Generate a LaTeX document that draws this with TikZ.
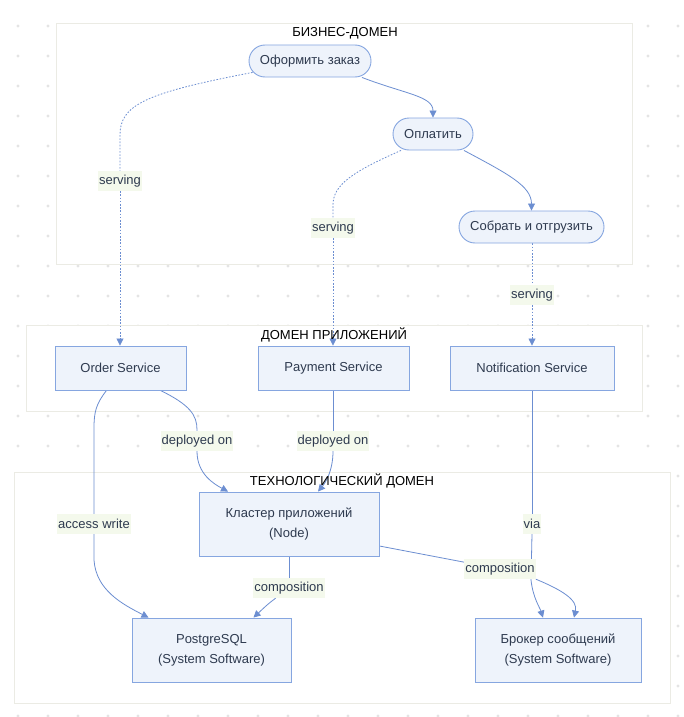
\documentclass[tikz,border=0pt]{standalone}
\usepackage{fontspec}
\setmainfont{Liberation Sans}
\usetikzlibrary{arrows.meta,calc}
\definecolor{edgec}{HTML}{6C8ED1}
\definecolor{nodeb}{HTML}{86A6E0}
\definecolor{nodef}{HTML}{EEF3FB}
\definecolor{txtc}{HTML}{2E3A4F}
\definecolor{lblf}{HTML}{F4F9EC}
\definecolor{domb}{HTML}{EBEBE4}
\definecolor{dotc}{HTML}{E4E4E4}
\pgfdeclarelayer{bglayer}
\pgfdeclarelayer{edgelayer}
\pgfsetlayers{bglayer,edgelayer,main}
\tikzset{
  every node/.style={font=\fontsize{13}{20}\selectfont, text=txtc},
  pill/.style={draw=nodeb, fill=nodef, line width=0.9pt, rounded corners=16pt, inner sep=0pt, minimum height=32pt},
  svc/.style={draw=nodeb, fill=nodef, line width=0.9pt, inner sep=0pt, minimum height=44pt},
  tecbox/.style={draw=nodeb, fill=nodef, line width=0.9pt, inner sep=0pt, minimum height=64pt, align=center},
  lbl/.style={fill=lblf, inner xsep=1pt, inner ysep=0pt, minimum height=20pt},
  domainbox/.style={draw=domb, fill=white, line width=1pt},
  dtitle/.style={text=black},
  conn/.style={draw=edgec, line width=0.8pt},
  arr/.style={conn, -{Triangle[length=7pt,width=7pt]}},
  dotconn/.style={conn, dash pattern=on 1.6pt off 1.6pt},
}
\begin{document}
\begin{tikzpicture}[x=1pt,y=-1pt]
\useasboundingbox (0,0) rectangle (684,717);
\begin{pgfonlayer}{bglayer}
  \fill[white] (0,0) rectangle (684,717);
  \foreach \i in {0,...,22} {
    \foreach \j in {0,...,23} {
      \fill[dotc] ({18+30*\i},{26+30*\j}) circle (1.6pt);
    }
  }
  \path[domainbox] (56,24) rectangle (632,264);
  \path[domainbox] (26,325) rectangle (642,411);
  \path[domainbox] (14,472) rectangle (670,703);
\end{pgfonlayer}

% domain titles
\node[dtitle] (tbiz) at (345,33) {БИЗНЕС-ДОМЕН};
\node[dtitle] (tapp) at (334,335) {ДОМЕН ПРИЛОЖЕНИЙ};
\node[dtitle] (ttech) at (342,481) {ТЕХНОЛОГИЧЕСКИЙ ДОМЕН};

% business nodes
\node[pill, minimum width=122pt] (oz) at (310,61) {Оформить заказ};
\node[pill, minimum width=80pt] (opl) at (433,134) {Оплатить};
\node[pill, minimum width=145pt] (sob) at (531.5,227) {Собрать и отгрузить};

% application nodes
\node[svc, minimum width=131pt] (ord) at (120.5,368) {Order Service};
\node[svc, minimum width=151pt] (pay) at (333.5,368) {Payment Service};
\node[svc, minimum width=164pt] (notif) at (532,368) {Notification Service};

% technology nodes
\node[tecbox, minimum width=180pt] (clu) at (289,524) {Кластер приложений\\(Node)};
\node[tecbox, minimum width=159pt] (pg) at (211.5,650) {PostgreSQL\\(System Software)};
\node[tecbox, minimum width=166pt] (brk) at (558,650) {Брокер сообщений\\(System Software)};

% labels
\node[lbl] (s1) at (120,181) {serving};
\node[lbl] (s2) at (333,228) {serving};
\node[lbl] (s3) at (532,295) {serving};
\node[lbl] (d1) at (197,441) {deployed on};
\node[lbl] (d2) at (333,441) {deployed on};
\node[lbl] (aw) at (94,524) {access write};
\node[lbl] (via) at (532,524) {via};
\node[lbl] (c1) at (289,588) {composition};
\node[lbl] (c2) at (500,569) {composition};

\coordinate (viaj) at (531,580);

\begin{pgfonlayer}{edgelayer}
  % business flow
  \draw[arr] ([xshift=52pt]oz.south) .. controls (405,94) and (433,96) .. (opl.north);
  \draw[arr] ([xshift=31pt]opl.south) .. controls (508,174) and (531.5,186) .. (sob.north);
  % serving
  \draw[dotconn] ($(oz.south west)+(4,-5)$) .. controls (145,93) and (120,105) .. (120,135) -- (s1);
  \draw[dotconn, -{Triangle[length=7pt,width=7pt]}] (s1) -- (ord.north -| s1);
  \draw[dotconn] ([xshift=-32pt]opl.south) .. controls (352,172) and (333,185) .. (333,205) -- (s2);
  \draw[dotconn, -{Triangle[length=7pt,width=7pt]}] (s2) -- (pay.north -| s2);
  \draw[dotconn] (sob.south -| s3) -- (s3);
  \draw[dotconn, -{Triangle[length=7pt,width=7pt]}] (s3) -- (notif.north -| s3);
  % deployed on
  \draw[conn] ([xshift=40pt]ord.south) .. controls (190,405) and (197,415) .. (197,430) -- (d1);
  \draw[arr] (d1.south) .. controls (197,474) and (214,484) .. ([xshift=-61pt]clu.north);
  \draw[conn] (pay.south -| d2) -- (d2);
  \draw[arr] (d2.south) .. controls (333,470) and (326,482) .. ([xshift=29pt]clu.north);
  % access write
  \draw[conn] ([xshift=-14pt]ord.south) .. controls (96,404) and (94,412) .. (94,428) -- (aw);
  \draw[arr] (aw.south) -- (94,560) .. controls (96,590) and (122,604) .. ([xshift=-63pt]pg.north);
  % via
  \draw[conn] (notif.south -| via) -- (via);
  \draw[arr] (via.south) -- (viaj) .. controls (533,598) and (540,608) .. ([xshift=-15pt]brk.north);
  % composition
  \draw[conn] (clu.south -| c1) -- (c1);
  \draw[arr] (c1) .. controls (268,604) .. ([xshift=42pt]pg.north);
  \draw[conn] ($(clu.east)+(0,22)$) -- (c2);
  \draw[arr] (c2.south east) .. controls (562,590) and (578,600) .. ([xshift=16pt]brk.north);
\end{pgfonlayer}
\end{tikzpicture}
\end{document}
